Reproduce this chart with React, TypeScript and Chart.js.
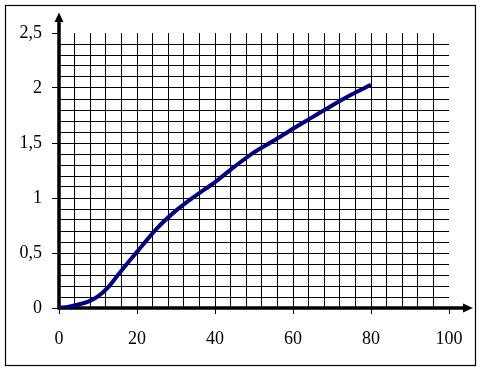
import React, { useEffect, useRef } from 'react';
import { Chart, registerables } from 'chart.js';
Chart.register(...registerables);

const xValues = [0, 2.5, 5, 7.5, 10, 12.5, 15, 17.5, 20, 25, 30, 35, 40, 45, 50, 55, 60, 65, 70, 75, 80];
const yValues = [0, 0.012, 0.032, 0.058, 0.105, 0.185, 0.295, 0.405, 0.51, 0.72, 0.885, 1.02, 1.145, 1.285, 1.415, 1.52, 1.63, 1.735, 1.84, 1.94, 2.03];
const xTickLabels = [0, 20, 40, 60, 80, 100];
const yTickLabels = ['0', '0,5', '1', '1,5', '2', '2,5'];

const W = 484;
const H = 372;

const isMult = (v: number, m: number) => Math.abs(v / m - Math.round(v / m)) < 1e-6;

const decor = {
  id: 'decor',
  beforeDraw(chart: any) {
    const ctx = chart.ctx;
    ctx.save();
    ctx.fillStyle = '#ffffff';
    ctx.fillRect(0, 0, chart.width, chart.height);
    ctx.strokeStyle = '#000000';
    ctx.lineWidth = 1.2;
    ctx.strokeRect(5.5, 5.5, 470, 360);
    ctx.restore();
  },
  beforeDatasetsDraw(chart: any) {
    const ctx = chart.ctx;
    const xs = chart.scales.x;
    const ys = chart.scales.y;
    const x0 = xs.getPixelForValue(0);
    const y0 = ys.getPixelForValue(0);
    ctx.save();
    ctx.strokeStyle = '#000000';
    ctx.fillStyle = '#000000';
    ctx.lineWidth = 3.5;
    // y axis
    ctx.beginPath();
    ctx.moveTo(x0, y0 + 1.5);
    ctx.lineTo(x0, 20);
    ctx.stroke();
    ctx.beginPath();
    ctx.moveTo(x0, 12.5);
    ctx.lineTo(x0 - 4.5, 22);
    ctx.lineTo(x0 + 4.5, 22);
    ctx.closePath();
    ctx.fill();
    // x axis
    ctx.beginPath();
    ctx.moveTo(x0 - 1.5, y0);
    ctx.lineTo(465, y0);
    ctx.stroke();
    ctx.beginPath();
    ctx.moveTo(473, y0);
    ctx.lineTo(463, y0 - 4.5);
    ctx.lineTo(463, y0 + 4.5);
    ctx.closePath();
    ctx.fill();
    ctx.restore();
  },
};

export default function App() {
  const ref = useRef<HTMLCanvasElement>(null);
  useEffect(() => {
    if (!ref.current) return;
    const font = { family: '"Liberation Serif", "Times New Roman", serif', size: 18 };
    const chart = new Chart(ref.current, {
      type: 'line',
      data: {
        datasets: [
          {
            data: xValues.map((x, i) => ({ x, y: yValues[i] })),
            borderColor: '#000080',
            borderWidth: 4,
            pointRadius: 0,
            fill: false,
            cubicInterpolationMode: 'monotone',
          },
        ],
      },
      options: {
        responsive: false,
        animation: false,
        layout: { padding: { left: 0, top: 33, right: 35, bottom: 0 } },
        plugins: { legend: { display: false }, tooltip: { enabled: false } },
        scales: {
          x: {
            type: 'linear',
            min: 0,
            max: 100,
            afterFit: (s: any) => {
              s.height = 64;
            },
            border: { display: false },
            grid: {
              color: (c: any) => (c.tick && (c.tick.value === 0 || c.tick.value === 100) ? 'rgba(0,0,0,0)' : '#000000'),
              tickColor: (c: any) => (c.tick && isMult(c.tick.value, 20) ? '#000000' : 'rgba(0,0,0,0)'),
              lineWidth: 1,
              tickLength: 6,
              drawTicks: true,
            },
            ticks: {
              stepSize: 4,
              autoSkip: false,
              maxRotation: 0,
              color: '#000000',
              font,
              padding: 14,
              callback: (v: any) => {
                const n = Number(v);
                return xTickLabels.some((t) => Math.abs(t - n) < 1e-6) ? String(Math.round(n)) : '';
              },
            },
          },
          y: {
            type: 'linear',
            min: 0,
            max: 2.5,
            afterFit: (s: any) => {
              s.width = 59;
            },
            border: { display: false },
            grid: {
              color: (c: any) =>
                c.tick && (Math.abs(c.tick.value) < 1e-6 || Math.abs(c.tick.value - 2.5) < 1e-6) ? 'rgba(0,0,0,0)' : '#000000',
              tickColor: (c: any) => (c.tick && isMult(c.tick.value, 0.5) ? '#000000' : 'rgba(0,0,0,0)'),
              lineWidth: 1,
              tickLength: 7,
            },
            ticks: {
              stepSize: 0.1,
              autoSkip: false,
              color: '#000000',
              font,
              padding: 10,
              callback: (v: any) => {
                const n = Number(v);
                if (!isMult(n, 0.5)) return '';
                const idx = Math.round(n / 0.5);
                return yTickLabels[idx] ?? '';
              },
            },
          },
        },
      },
      plugins: [decor],
    } as any);
    return () => chart.destroy();
  }, []);
  return (
    <div style={{ position: 'fixed', left: 0, top: 0, width: W, height: H }}>
      <canvas ref={ref} width={W} height={H} style={{ display: 'block', width: W, height: H }} />
    </div>
  );
}
